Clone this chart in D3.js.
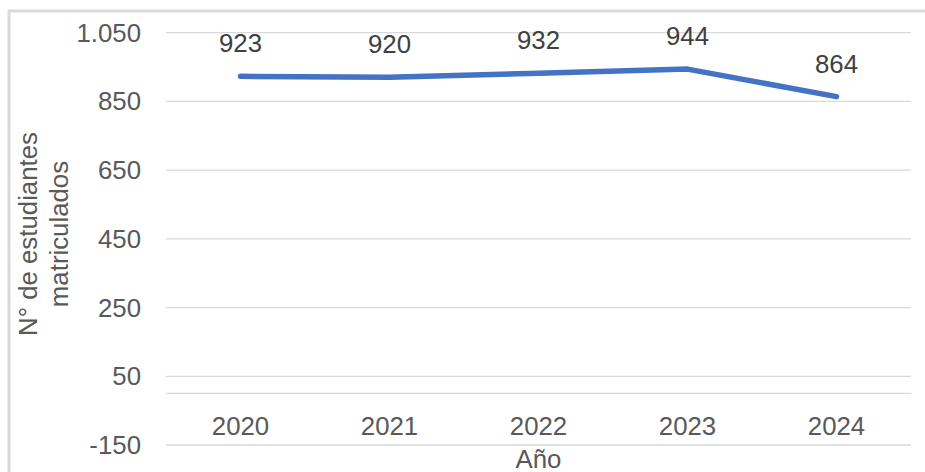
<!DOCTYPE html>
<html>
<head>
<meta charset="utf-8">
<script src="https://cdn.jsdelivr.net/npm/d3@7"></script>
<style>
  body { margin: 0; background: #fff; }
  text { font-family: "Liberation Sans", Arial, sans-serif; }
</style>
</head>
<body>
<svg id="chart" width="925" height="472"></svg>
<script>
// data
var years = ["2020", "2021", "2022", "2023", "2024"];
var students = [923, 920, 932, 944, 864];
var yTicks = [-150, 50, 250, 450, 650, 850, 1050];

var svg = d3.select("#chart");
// note: "top" is taken by window.top, so use plot* names
var plotLeft = 166, plotRight = 911, plotTop = 32.7, plotBottom = 445;
var fs = 25.8;

// outer chart border
svg.append("rect")
  .attr("x", 9).attr("y", 11)
  .attr("width", 940).attr("height", 480)
  .attr("fill", "none")
  .attr("stroke", "#d9d9d9")
  .attr("stroke-width", 3);

var x = d3.scaleBand().domain(years).range([plotLeft, plotRight]);
var y = d3.scaleLinear().domain([-150, 1050]).range([plotBottom, plotTop]);

// spanish style: dot for thousands, plain hyphen for negatives
var fmt = function(v) {
  return d3.format(",")(v).replace(/,/g, ".").replace("\u2212", "-");
};

// gridlines
svg.append("g")
  .selectAll("line")
  .data(yTicks)
  .enter()
  .append("line")
  .attr("x1", plotLeft).attr("x2", plotRight)
  .attr("y1", d => y(d)).attr("y2", d => y(d))
  .attr("stroke", "#d9d9d9")
  .attr("stroke-width", 1.3);

// horizontal axis line at zero
svg.append("line")
  .attr("x1", plotLeft).attr("x2", plotRight)
  .attr("y1", y(0)).attr("y2", y(0))
  .attr("stroke", "#d9d9d9")
  .attr("stroke-width", 1.3);

// y tick labels
svg.append("g")
  .selectAll("text")
  .data(yTicks)
  .enter()
  .append("text")
  .attr("x", 141)
  .attr("y", d => y(d) + 9)
  .attr("text-anchor", "end")
  .attr("font-size", fs)
  .attr("fill", "#595959")
  .text(d => fmt(d));

// x labels
svg.append("g")
  .selectAll("text")
  .data(years)
  .enter()
  .append("text")
  .attr("x", d => x(d) + x.bandwidth() / 2)
  .attr("y", 435)
  .attr("text-anchor", "middle")
  .attr("font-size", fs)
  .attr("fill", "#595959")
  .text(d => d);

// line
var line = d3.line()
  .x((d, i) => x(years[i]) + x.bandwidth() / 2)
  .y(d => y(d));

svg.append("path")
  .datum(students)
  .attr("d", line)
  .attr("fill", "none")
  .attr("stroke", "#4472c4")
  .attr("stroke-width", 5.5)
  .attr("stroke-linecap", "round")
  .attr("stroke-linejoin", "round");

// data labels
svg.append("g")
  .selectAll("text")
  .data(students)
  .enter()
  .append("text")
  .attr("x", (d, i) => x(years[i]) + x.bandwidth() / 2)
  .attr("y", d => y(d) - 24)
  .attr("text-anchor", "middle")
  .attr("font-size", fs)
  .attr("fill", "#404040")
  .text(d => d);

// axis titles
svg.append("text")
  .attr("x", (plotLeft + plotRight) / 2)
  .attr("y", 468)
  .attr("text-anchor", "middle")
  .attr("font-size", fs)
  .attr("fill", "#595959")
  .text("Año");

var yTitle = svg.append("text")
  .attr("transform", "translate(37,234) rotate(-90)")
  .attr("text-anchor", "middle")
  .attr("font-size", fs)
  .attr("fill", "#595959");
yTitle.append("tspan").attr("x", 0).attr("y", 0).text("N° de estudiantes");
yTitle.append("tspan").attr("x", 0).attr("y", 31).text("matriculados");
</script>
</body>
</html>
